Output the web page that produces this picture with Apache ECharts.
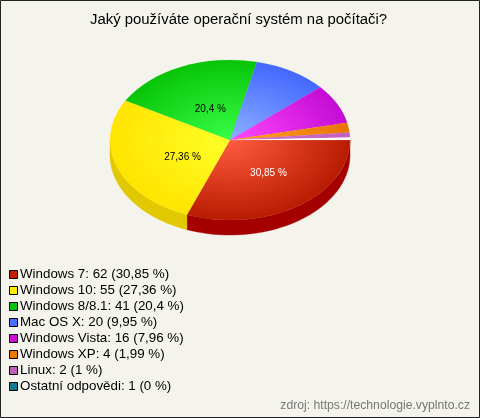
<!DOCTYPE html>
<html><head><meta charset="utf-8">
<style>html,body{margin:0;padding:0;background:#f5f4ec}#c{width:480px;height:418px}</style>
<script src="https://cdn.jsdelivr.net/npm/echarts@6/dist/echarts.min.js"></script>
</head><body><div id="c"></div>
<script>
const categories = ["Windows 7","Windows 10","Windows 8/8.1","Mac OS X","Windows Vista","Windows XP","Linux","Ostatní odpovědi"];
const values = [62,55,41,20,16,4,2,1];
const percentLabels = ["30,85 %","27,36 %","20,4 %","9,95 %","7,96 %","1,99 %","1 %","0 %"];
const legendColors = ["#c02000","#ffee00","#0cc00c","#4a70ff","#c810d0","#ee7700","#c060b8","#107a90"];
const innerColors = ["#ff5c40","#ffff28","#38ff48","#8cb0ff","#ff48ff","#ffa428","#d070d0","#ffffff"];
const outerColors = ["#b81c00","#ffe400","#08c408","#4468ff","#c40cd4","#ea7400","#c060c0","#ffffff"];
const sideColors = ["#a40000","#e2c800","#088808","#3050b0","#900a98","#b05500","#8a4488","#0c5a6c"];
const shownLabels = [0,1,2];

const CX=230, CY=140, RX=120, RY=80, DEPTH=15;
const labelStyle = {0:{fill:"#fff",dx:4.5,dy:0},1:{fill:"#000",dx:9,dy:3.5},2:{fill:"#000",dx:4.5,dy:5.5}};
const total = values.reduce((a,b)=>a+b,0);
let acc=0;
const spans = values.map(v=>{const s=acc/total*2*Math.PI; acc+=v; return [s,acc/total*2*Math.PI];});

function render(i){
  return function(params,api){
    const v = api.value(0);
    const s = spans[i][0], e = s + v/total*2*Math.PI;
    const children=[];
    const a0=Math.max(s,0), a1=Math.min(e,Math.PI);
    if(a1>a0){
      const top=[],bot=[];
      for(let k=0;k<=48;k++){
        const a=a0+(a1-a0)*k/48;
        const x=CX+RX*Math.cos(a), y=CY+RY*Math.sin(a);
        top.push([x,y]); bot.unshift([x,y+DEPTH]);
      }
      children.push({type:'polygon',shape:{points:top.concat(bot)},style:{fill:sideColors[i],stroke:sideColors[i],lineWidth:0.4}});
    }
    children.push({type:'group',x:CX,y:CY,scaleX:1,scaleY:RY/RX,children:[{
      type:'sector',
      shape:{cx:0,cy:0,r0:0,r:RX,startAngle:s,endAngle:e,clockwise:true},
      style:{fill:{type:'radial',x:0,y:0,r:RX,global:true,colorStops:[{offset:0,color:innerColors[i]},{offset:1,color:outerColors[i]}]},
             stroke:outerColors[i],lineWidth:0.2}
    }]});
    if(shownLabels.includes(i)){
      const m=(s+e)/2, l=labelStyle[i];
      children.push({type:'text',x:CX+RX*0.5*Math.cos(m)+l.dx,y:CY+RY*0.5*Math.sin(m)+l.dy,
        style:{text:percentLabels[i],fill:l.fill,font:'10px "Liberation Sans"',textAlign:'center',textVerticalAlign:'middle'}});
    }
    return {type:'group',children};
  };
}

const legendNames = categories.map((c,i)=>`${c}: ${values[i]} (${percentLabels[i]})`);
const chart = echarts.init(document.getElementById('c'),null,{renderer:'canvas'});
chart.setOption({
  animation:false,
  backgroundColor:'#f5f4ec',
  title:[
    {text:"Jaký používáte operační systém na počítači?",left:90,top:12,padding:0,
     textStyle:{fontFamily:'Liberation Sans',fontSize:14.9,fontWeight:'normal',color:'#000'}},
    {text:"zdroj: https://technologie.vyplnto.cz",right:10,top:400,padding:0,
     textStyle:{fontFamily:'Liberation Sans',fontSize:12.2,fontWeight:'normal',color:'#777'}}
  ],
  legend:{orient:'vertical',left:9,top:268,itemWidth:8,itemHeight:8,itemGap:3,icon:'rect',
    selectedMode:false,data:legendNames,padding:0,
    itemStyle:{borderColor:'#000',borderWidth:1},
    textStyle:{fontFamily:'Liberation Sans',fontSize:13.35,color:'#000',padding:[0,0,0,-2.5],lineHeight:13}},
  graphic:[{type:'rect',silent:true,z:100,shape:{x:0.5,y:0.5,width:479,height:417},style:{fill:'none',stroke:'#222',lineWidth:1}}],
  series:values.map((v,i)=>({type:'custom',name:legendNames[i],coordinateSystem:'none',silent:true,
    itemStyle:{color:legendColors[i]},data:[[v]],renderItem:render(i),clip:false}))
});
</script></body></html>
